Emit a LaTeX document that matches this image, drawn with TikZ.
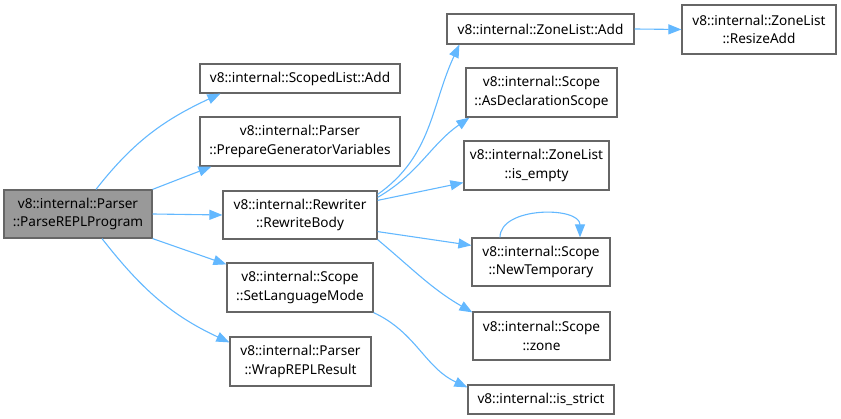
\documentclass[tikz,border=0pt]{standalone}
\usepackage{fontspec}
\setmainfont{Noto Sans}
\usetikzlibrary{arrows.meta}
\definecolor{edgeblue}{HTML}{63B8FF}
\definecolor{boxborder}{HTML}{666666}
\definecolor{rootfill}{HTML}{999999}
\begin{document}
\begin{tikzpicture}[x=1pt,y=1pt,
  box/.style={draw=boxborder, line width=1.2pt, fill=white, align=center, inner sep=0pt,
    font=\fontsize{13.6}{18.5}\selectfont, text=black},
  edge/.style={draw=edgeblue, line width=1.1pt, -{Triangle[length=13pt,width=10pt]}}]
\useasboundingbox (0,0) rectangle (841,419);
\node[box, fill=rootfill, minimum width=148, minimum height=48] (root) at (78,205) {v8::internal::Parser\\::ParseREPLProgram};
\node[box, minimum width=200, minimum height=29] (scoped) at (300,340.5) {v8::internal::ScopedList::Add};
\node[box, minimum width=200, minimum height=49] (prepare) at (300,277.5) {v8::internal::Parser\\::PrepareGeneratorVariables};
\node[box, minimum width=154, minimum height=48] (rewrite) at (300,204) {v8::internal::Rewriter\\::RewriteBody};
\node[box, minimum width=146, minimum height=49] (setlang) at (300,131.5) {v8::internal::Scope\\::SetLanguageMode};
\node[box, minimum width=141, minimum height=49] (wrap) at (300.5,57.5) {v8::internal::Parser\\::WrapREPLResult};
\node[box, minimum width=187, minimum height=30] (zoneadd) at (540.5,390) {v8::internal::ZoneList::Add};
\node[box, minimum width=154, minimum height=49] (resize) at (759,389.5) {v8::internal::ZoneList\\::ResizeAdd};
\node[box, minimum width=151, minimum height=49] (asdecl) at (541.5,326.5) {v8::internal::Scope\\::AsDeclarationScope};
\node[box, minimum width=145, minimum height=49] (isempty) at (536.5,253.5) {v8::internal::ZoneList\\::is\_empty};
\node[box, minimum width=138, minimum height=48] (newtemp) at (541,157) {v8::internal::Scope\\::NewTemporary};
\node[box, minimum width=137, minimum height=48] (zone) at (541.5,83) {v8::internal::Scope\\::zone};
\node[box, minimum width=146, minimum height=29] (isstrict) at (541,19.5) {v8::internal::is\_strict};

\draw[edge] ([xshift=18]root.north) to[out=52,in=205] ([xshift=21]scoped.south west);
\draw[edge] (root.north east) -- ([xshift=12]prepare.south west);
\draw[edge] (root.east) -- (rewrite.west);
\draw[edge] (root.south east) -- ([yshift=-2]setlang.north west);
\draw[edge] ([xshift=24]root.south) to[out=-52,in=155] ([yshift=-6]wrap.north west);

\draw[edge] ([yshift=-4]rewrite.north east) to[out=35,in=-115] ([xshift=13]zoneadd.south west);
\draw[edge] ([yshift=-7]rewrite.north east) to[out=30,in=-145] ([xshift=4]asdecl.south west);
\draw[edge] ([yshift=-10]rewrite.north east) -- ([yshift=8]isempty.south west);
\draw[edge] ([yshift=8]rewrite.south east) -- ([yshift=-8]newtemp.north west);
\draw[edge] (rewrite.south east) to[out=-40,in=150] ([yshift=-1]zone.north west);
\draw[edge] (setlang.south east) to[out=-25,in=155] ([yshift=-3]isstrict.north west);
\draw[edge] (zoneadd.east) -- (resize.west);
\draw[edge] ([xshift=-41]newtemp.north) to[out=90,in=90] ([xshift=39]newtemp.north);
\end{tikzpicture}
\end{document}
